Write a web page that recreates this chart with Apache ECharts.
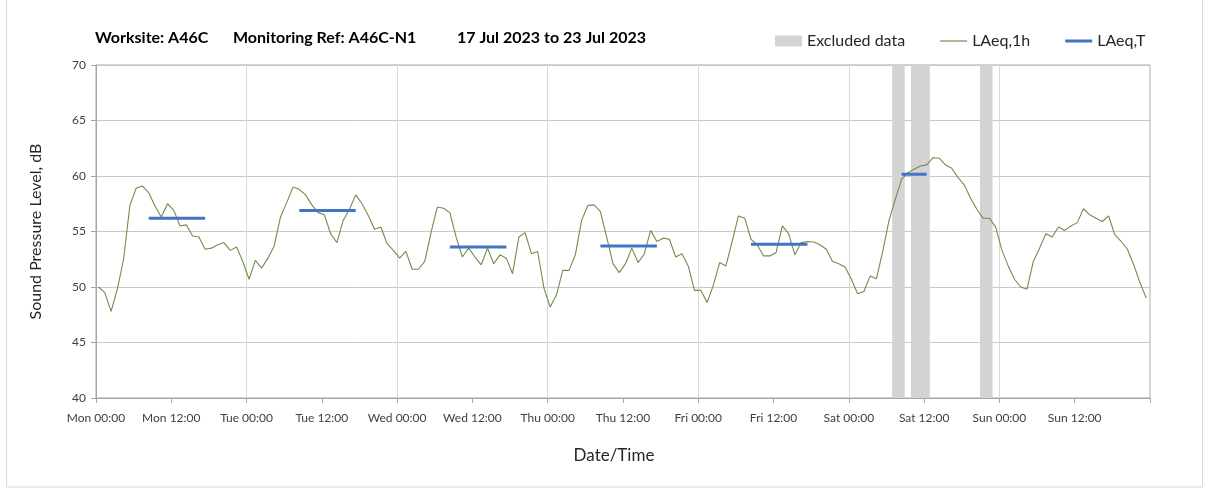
<!DOCTYPE html>
<html>
<head>
<meta charset="utf-8">
<script src="https://cdn.jsdelivr.net/npm/echarts@6/dist/echarts.min.js"></script>
<style>
html,body{margin:0;padding:0;background:#fff;}
#chart{width:1208px;height:492px;}
</style>
</head>
<body>
<div id="chart"></div>
<script>
// ---------------- data ----------------
const titleParts = ['Worksite: A46C', 'Monitoring Ref: A46C-N1', '17 Jul 2023 to 23 Jul 2023'];
const xTickLabels = ['Mon 00:00','Mon 12:00','Tue 00:00','Tue 12:00','Wed 00:00','Wed 12:00','Thu 00:00','Thu 12:00','Fri 00:00','Fri 12:00','Sat 00:00','Sat 12:00','Sun 00:00','Sun 12:00',''];
const seriesNames = ['Excluded data', 'LAeq,1h', 'LAeq,T'];
// hourly LAeq,1h (dB) from Mon 00:00, one value per hour (168 hours)
const laeq1h = [
  50.0,49.5,47.8,49.8,52.5,57.35,58.9,59.1,58.5,57.3,56.3,57.5,56.9,55.5,55.6,54.6,54.5,53.4,53.5,53.8,54.0,53.3,53.6,52.3,
  50.7,52.4,51.7,52.6,53.7,56.3,57.6,59.0,58.8,58.3,57.4,56.7,56.5,54.8,54.0,56.0,57.0,58.3,57.5,56.45,55.2,55.4,53.9,53.3,
  52.6,53.2,51.6,51.6,52.3,54.9,57.2,57.1,56.7,54.5,52.7,53.5,52.7,52.0,53.5,52.1,52.9,52.6,51.2,54.5,54.9,53.0,53.2,49.9,
  48.2,49.3,51.5,51.5,52.9,56.0,57.35,57.4,56.8,54.5,52.1,51.3,52.1,53.5,52.2,53.0,55.1,54.1,54.4,54.3,52.7,53.0,51.9,49.7,
  49.7,48.6,50.15,52.2,51.9,54.1,56.4,56.2,54.3,53.8,52.8,52.8,53.1,55.5,54.8,52.9,54.0,54.1,54.05,53.8,53.4,52.3,52.1,51.8,
  50.7,49.4,49.6,51.0,50.75,53.2,56.0,57.9,59.7,60.3,60.6,60.9,61.0,61.65,61.6,61.0,60.7,59.85,59.2,58.0,57.0,56.2,56.2,55.4,
  53.3,51.9,50.7,50.0,49.8,52.3,53.5,54.8,54.5,55.4,55.1,55.5,55.8,57.05,56.5,56.2,55.9,56.4,54.7,54.1,53.4,52.0,50.4,49.0
];
// LAeq,T periods (first hour, last hour, level dB)
const periodStart = [8, 32, 56, 80, 104, 128];
const periodEnd   = [17, 41, 65, 89, 113, 132];
const periodLevel = [56.2, 56.9, 53.6, 53.7, 53.85, 60.15];
// excluded hours (hour index from Mon 00:00)
const excludedHours = [127, 128, 130, 131, 132, 141, 142];
// ---------------------------------------

const OFFSET = 0.4; // plotting position inside each hour
const lineData = laeq1h.map((v, i) => [i + OFFSET, v]);
const tData = [];
periodStart.forEach((s, k) => {
  tData.push([s + OFFSET, periodLevel[k]]);
  tData.push([periodEnd[k] + OFFSET, periodLevel[k]]);
  tData.push([periodEnd[k] + OFFSET, null]);
});
const exRanges = [];
excludedHours.forEach(h => {
  const last = exRanges[exRanges.length - 1];
  if (last && last[1] === h) last[1] = h + 1; else exRanges.push([h, h + 1]);
});
const exData = exRanges.map(r => [r[0] + OFFSET - 0.5, r[1] + OFFSET - 0.5]);

const FONT = 'Lato, "Open Sans", sans-serif';
const GREEN = '#6F8E4B';
const BLUE = '#4472C4';
const chart = echarts.init(document.getElementById('chart'), null, {renderer: 'canvas'});
const titleStyle = {fontFamily: FONT, fontSize: 16, fontWeight: 'bold', color: '#000'};
chart.setOption({
  animation: false,
  backgroundColor: '#fff',
  graphic: [{
    type: 'rect', silent: true, z: -10,
    shape: {x: 6.5, y: -2, width: 1196, height: 489},
    style: {fill: 'none', stroke: '#d9d9d9', lineWidth: 1}
  }],
  title: [
    {text: titleParts[0], left: 95, top: 30, padding: 0, textStyle: titleStyle},
    {text: titleParts[1], left: 233, top: 30, padding: 0, textStyle: titleStyle},
    {text: titleParts[2], left: 457, top: 30, padding: 0, textStyle: titleStyle}
  ],
  legend: {
    left: 775, top: 33, padding: 0,
    itemWidth: 27, itemHeight: 11, itemGap: 35,
    textStyle: {fontFamily: FONT, fontSize: 16, color: '#262626'},
    data: [
      {name: seriesNames[0], icon: 'rect'},
      {name: seriesNames[1], icon: 'path://M0,0h27v1.2h-27z'},
      {name: seriesNames[2], icon: 'path://M0,0h27v3h-27z'}
    ]
  },
  grid: {left: 96, right: 58, top: 65, bottom: 94, show: true, borderColor: '#a6a6a6', borderWidth: 1, backgroundColor: 'transparent'},
  xAxis: [{
    type: 'value', min: 0, max: 168, interval: 12,
    name: 'Date/Time', nameLocation: 'middle', nameGap: 49,
    nameTextStyle: {fontFamily: FONT, fontSize: 17, color: '#262626', padding: [0, 18, 0, 0]},
    axisLine: {show: true, lineStyle: {color: '#a6a6a6'}},
    axisTick: {show: true, length: 5, lineStyle: {color: '#a6a6a6'}},
    axisLabel: {fontFamily: FONT, fontSize: 12, color: '#404040', margin: 14,
      formatter: v => xTickLabels[Math.round(v / 12)] || ''},
    splitLine: {show: false}
  }, {
    type: 'value', min: 0, max: 168, interval: 24, position: 'bottom',
    axisLine: {show: false}, axisTick: {show: false}, axisLabel: {show: false},
    splitLine: {show: true, lineStyle: {color: '#d9d9d9', width: 1}}
  }],
  yAxis: {
    type: 'value', min: 40, max: 70, interval: 5,
    name: 'Sound Pressure Level, dB', nameLocation: 'middle', nameGap: 52, nameRotate: 90,
    nameTextStyle: {fontFamily: FONT, fontSize: 16, color: '#262626'},
    axisLine: {show: true, lineStyle: {color: '#a6a6a6'}},
    axisTick: {show: true, length: 5, lineStyle: {color: '#a6a6a6'}},
    axisLabel: {fontFamily: FONT, fontSize: 12, color: '#404040', margin: 10},
    splitLine: {show: true, lineStyle: {color: '#c8c8c8', width: 1}}
  },
  series: [{
    name: seriesNames[0], type: 'custom', z: 1,
    itemStyle: {color: '#d3d3d3'},
    data: exData,
    renderItem: (params, api) => {
      const p0 = api.coord([api.value(0), 70]);
      const p1 = api.coord([api.value(1), 40]);
      return {type: 'rect', shape: {x: p0[0], y: p0[1], width: p1[0] - p0[0], height: p1[1] - p0[1]},
        style: {fill: '#d3d3d3'}};
    }
  }, {
    name: seriesNames[1], type: 'line', z: 3,
    data: lineData, showSymbol: false, symbol: 'none',
    lineStyle: {color: GREEN, width: 1.1},
    itemStyle: {color: GREEN}
  }, {
    name: seriesNames[2], type: 'line', z: 4,
    data: tData, showSymbol: false, symbol: 'none', connectNulls: false,
    lineStyle: {color: BLUE, width: 3, cap: 'butt'},
    itemStyle: {color: BLUE}
  }]
});
</script>
</body>
</html>
